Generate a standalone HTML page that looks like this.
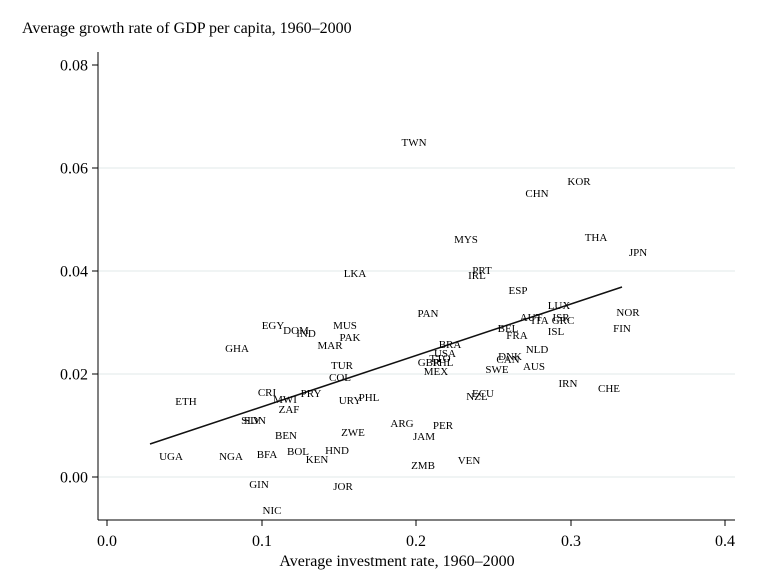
<!DOCTYPE html>
<html><head><style>body{margin:0;background:#fff}svg{display:block}</style></head><body>
<svg width="757" height="584" xmlns="http://www.w3.org/2000/svg" font-family="Liberation Serif, serif">
<rect width="757" height="584" fill="#fff"/>
<g stroke="#e6eeee" stroke-width="1.3">
<line x1="99" y1="374" x2="735" y2="374"/><line x1="99" y1="271" x2="735" y2="271"/><line x1="99" y1="168" x2="735" y2="168"/><line x1="99" y1="477" x2="735" y2="477"/>
</g>
<g stroke="#000" stroke-width="1">
<line x1="98" y1="52" x2="98" y2="520"/><line x1="98" y1="520" x2="735" y2="520"/>
<line x1="92" y1="477" x2="98" y2="477"/><line x1="92" y1="374" x2="98" y2="374"/><line x1="92" y1="271" x2="98" y2="271"/><line x1="92" y1="168" x2="98" y2="168"/><line x1="92" y1="65" x2="98" y2="65"/>
<line x1="107" y1="520" x2="107" y2="526"/><line x1="262" y1="520" x2="262" y2="526"/><line x1="416" y1="520" x2="416" y2="526"/><line x1="571" y1="520" x2="571" y2="526"/><line x1="725" y1="520" x2="725" y2="526"/>
</g>
<g font-size="16" text-anchor="end" dominant-baseline="middle">
<text x="88" y="479">0.00</text><text x="88" y="376">0.02</text><text x="88" y="273">0.04</text><text x="88" y="170">0.06</text><text x="88" y="67">0.08</text>
</g>
<g font-size="16" text-anchor="middle">
<text x="107" y="546">0.0</text><text x="262" y="546">0.1</text><text x="416" y="546">0.2</text><text x="571" y="546">0.3</text><text x="725" y="546">0.4</text>
<text x="397" y="566">Average investment rate, 1960–2000</text>
</g>
<text x="22" y="33" font-size="16">Average growth rate of GDP per capita, 1960–2000</text>
<line x1="150" y1="444" x2="622" y2="287" stroke="#111" stroke-width="1.6"/>
<g font-size="11" text-anchor="middle" dominant-baseline="middle" transform="translate(0,1.5)">
<text x="414" y="142">TWN</text><text x="579" y="181">KOR</text><text x="537" y="193">CHN</text><text x="466" y="239">MYS</text><text x="596" y="237">THA</text><text x="638" y="252">JPN</text><text x="355" y="273">LKA</text><text x="482" y="270">PRT</text><text x="477" y="275">IRL</text><text x="518" y="290">ESP</text><text x="428" y="313">PAN</text><text x="559" y="305">LUX</text><text x="531" y="317">AUT</text><text x="561" y="317">ISR</text><text x="540" y="320">ITA</text><text x="563" y="320">GRC</text><text x="628" y="312">NOR</text><text x="622" y="328">FIN</text><text x="508" y="328">BEL</text><text x="556" y="331">ISL</text><text x="517" y="335">FRA</text><text x="450" y="344">BRA</text><text x="445" y="353">USA</text><text x="537" y="349">NLD</text><text x="440" y="358">TTO</text><text x="510" y="356">DNK</text><text x="508" y="359">CAN</text><text x="429" y="362">GBR</text><text x="443" y="362">PHL</text><text x="497" y="369">SWE</text><text x="534" y="366">AUS</text><text x="436" y="371">MEX</text><text x="568" y="383">IRN</text><text x="609" y="388">CHE</text><text x="483" y="393">ECU</text><text x="477" y="396">NZL</text>
<text x="273" y="325">EGY</text><text x="296" y="330">DOM</text><text x="306" y="333">IND</text><text x="345" y="325">MUS</text><text x="350" y="337">PAK</text><text x="330" y="345">MAR</text><text x="237" y="348">GHA</text><text x="342" y="365">TUR</text><text x="340" y="377">COL</text><text x="267" y="392">CRI</text><text x="285" y="399">MWI</text><text x="311" y="393">PRY</text><text x="350" y="400">URY</text><text x="369" y="397">PHL</text><text x="186" y="401">ETH</text><text x="289" y="409">ZAF</text><text x="251" y="420">SLV</text><text x="255" y="420">SDN</text><text x="286" y="435">BEN</text><text x="353" y="432">ZWE</text><text x="402" y="423">ARG</text><text x="443" y="425">PER</text><text x="424" y="436">JAM</text><text x="171" y="456">UGA</text><text x="231" y="456">NGA</text><text x="267" y="454">BFA</text><text x="298" y="451">BOL</text><text x="317" y="459">KEN</text><text x="337" y="450">HND</text><text x="469" y="460">VEN</text><text x="423" y="465">ZMB</text><text x="259" y="484">GIN</text><text x="343" y="486">JOR</text><text x="272" y="510">NIC</text>
</g>
</svg>
</body></html>
